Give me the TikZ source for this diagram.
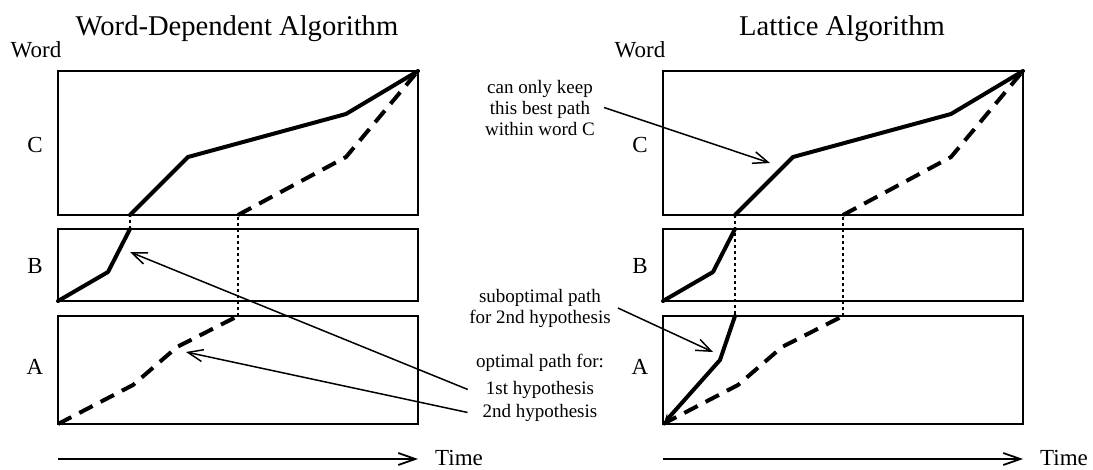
\documentclass[tikz,border=0pt]{standalone}
\usepackage{fontspec}
\setmainfont{Liberation Serif}
\usetikzlibrary{arrows.meta}
\begin{document}
\begin{tikzpicture}[x=1pt,y=-1pt,
  box/.style={draw, line width=1.7pt},
  hyp/.style={line width=4pt, line cap=round, line join=round},
  hypdash/.style={line width=4pt, line join=round, dash pattern=on 15pt off 9pt},
  link/.style={line width=1.7pt, dash pattern=on 3pt off 3pt},
  annot/.style={line width=1.5pt, -{Straight Barb[length=15pt,width=12pt]}},
  timeax/.style={line width=1.8pt, -{Straight Barb[length=17pt,width=12pt]}},
  titletext/.style={font=\fontsize{28.6}{32}\selectfont, inner sep=0pt, anchor=base},
  axlbl/.style={font=\fontsize{23}{26}\selectfont, inner sep=0pt, anchor=base},
  note/.style={font=\fontsize{19}{21}\selectfont, inner sep=0pt, align=center},
]
\useasboundingbox (0,0) rectangle (1093,469);

% ---------- titles and axis labels ----------
\node[titletext] (tL) at (237,35) {Word-Dependent Algorithm};
\node[titletext] (tR) at (842,35) {Lattice Algorithm};
\node[axlbl] (wL) at (36,57) {Word};
\node[axlbl] (wR) at (640,57) {Word};
\node[axlbl] (cL) at (35,152) {C};
\node[axlbl] (bL) at (35,273) {B};
\node[axlbl] (aL) at (35,374) {A};
\node[axlbl] (cR) at (640,152) {C};
\node[axlbl] (bR) at (640,273) {B};
\node[axlbl] (aR) at (640,374) {A};
\node[axlbl, anchor=base west] (timeL) at (435,465) {Time};
\node[axlbl, anchor=base west] (timeR) at (1040,465) {Time};

% ---------- boxes ----------
\draw[box] (58,71) rectangle (418,215);
\draw[box] (58,229) rectangle (418,301);
\draw[box] (58,316) rectangle (418,424);
\draw[box] (663,71) rectangle (1023,215);
\draw[box] (663,229) rectangle (1023,301);
\draw[box] (663,316) rectangle (1023,424);

% ---------- time axes ----------
\coordinate (tL0) at (58,459);  \coordinate (tL1) at (418,459);
\coordinate (tR0) at (663,459); \coordinate (tR1) at (1023,459);
\draw[timeax] (tL0) -- (tL1);
\draw[timeax] (tR0) -- (tR1);

% ---------- left panel paths ----------
\coordinate (L1) at (58,301);  \coordinate (L2) at (108,272); \coordinate (L3) at (130,229);
\coordinate (L4) at (130,215); \coordinate (L5) at (188,157); \coordinate (L6) at (346,114);
\coordinate (L7) at (418,71);
\coordinate (D1) at (58,424);  \coordinate (D2) at (133,385); \coordinate (D3) at (177,347);
\coordinate (D4) at (238,316); \coordinate (D5) at (238,215); \coordinate (D6) at (346,157);
\draw[hyp] (L1) -- (L2) -- (L3);
\draw[link] (L3) -- (L4);
\draw[hyp] (L4) -- (L5) -- (L6) -- (L7);
\draw[hypdash] (D1) -- (D2) -- (D3) -- (D4);
\draw[link] (D4) -- (D5);
\draw[hypdash] (D5) -- (D6) -- (L7);

% ---------- right panel paths ----------
\coordinate (R1) at (663,301);  \coordinate (R2) at (713,272); \coordinate (R3) at (735,229);
\coordinate (R4) at (735,215);  \coordinate (R5) at (793,157); \coordinate (R6) at (951,114);
\coordinate (R7) at (1023,71);
\coordinate (RA1) at (735,316); \coordinate (RA2) at (720,360); \coordinate (RA3) at (664,423);
\coordinate (E1) at (663,424);  \coordinate (E2) at (738,385); \coordinate (E3) at (782,347);
\coordinate (E4) at (843,316);  \coordinate (E5) at (843,215); \coordinate (E6) at (951,157);
\draw[hyp] (R1) -- (R2) -- (R3);
\draw[link] (R4) -- (RA1);
\draw[hyp] (R4) -- (R5) -- (R6) -- (R7);
\draw[hyp, -{Stealth[length=9pt,width=8pt]}] (RA1) -- (RA2) -- (RA3);
\draw[hypdash] (E1) -- (E2) -- (E3) -- (E4);
\draw[link] (E4) -- (E5);
\draw[hypdash] (E5) -- (E6) -- (R7);

% ---------- annotations ----------
\node[note, anchor=base] (opt) at (540,367) {optimal path for:};
\node[note, anchor=base] (h1) at (540,394) {1st hypothesis};
\node[note, anchor=base] (h2) at (540,417) {2nd hypothesis};
\node[note] (keep) at (540,107.5) {can only keep\\this best path\\within word C};
\node[note] (sub) at (540,308) {suboptimal path\\for 2nd hypothesis};

\coordinate (pH1) at (130,252);
\coordinate (pH2) at (186,352);
\coordinate (pKeep) at (770,163);
\coordinate (pSub) at (713,352);
\draw[annot] ([xshift=-18pt]h1.west) -- (pH1);
\draw[annot] ([xshift=-15pt]h2.west) -- (pH2);
\draw[annot] ([xshift=9pt]keep.east) -- (pKeep);
\draw[annot] ([xshift=7pt]sub.east) -- (pSub);
\end{tikzpicture}
\end{document}
